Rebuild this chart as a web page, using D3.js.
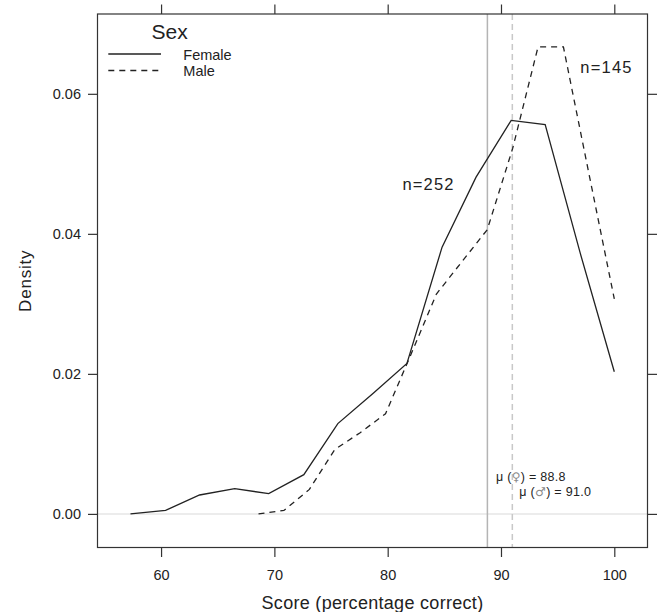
<!DOCTYPE html>
<html>
<head>
<meta charset="utf-8">
<script src="https://cdn.jsdelivr.net/npm/d3@7"></script>
<style>
  html, body { margin: 0; padding: 0; background: #fff; }
  svg { display: block; }
  text { font-family: "Liberation Sans", Arial, Helvetica, sans-serif; fill: #222; }
</style>
</head>
<body>
<svg id="chart" width="657" height="612"></svg>
<script>
// ---- data ----
const femaleScore = [57.3, 60.4, 63.4, 66.5, 69.5, 72.6, 75.6, 78.7, 81.7, 84.8, 87.8, 90.9, 93.9, 97.0, 100.0];
const femaleDensity = [0.0000, 0.0005, 0.0027, 0.0036, 0.0029, 0.0056, 0.0129, 0.0172, 0.0215, 0.0381, 0.0481, 0.0562, 0.0556, 0.0372, 0.0203];
const maleScore = [68.6, 70.84, 73.09, 75.33, 77.57, 79.81, 82.06, 84.3, 86.54, 88.79, 91.03, 93.27, 95.51, 97.76, 100.0];
const maleDensity = [0.0000, 0.0005, 0.0035, 0.0092, 0.0116, 0.0143, 0.0228, 0.0314, 0.0360, 0.0406, 0.0522, 0.0667, 0.0667, 0.0486, 0.0307];
const groups = ["Female", "Male"];
const groupN = [252, 145];
const groupMean = [88.8, 91.0];
const meanSymbols = ["\u2640", "\u2642"];
const xTicks = [60, 70, 80, 90, 100];
const yTicks = [0.00, 0.02, 0.04, 0.06];
const yTickLabels = ["0.00", "0.02", "0.04", "0.06"];

// ---- layout ----
const W = 657, H = 612;
const m = { left: 97.5, right: 9.5, top: 14, bottom: 64.5 };
const pw = W - m.left - m.right, ph = H - m.top - m.bottom;

const svg = d3.select("#chart");
const g = svg.append("g").attr("transform", `translate(${m.left},${m.top})`);

const x = d3.scaleLinear().domain([54.39, 102.93]).range([0, pw]);
const y = d3.scaleLinear().domain([-0.0048, 0.0714]).range([ph, 0]);

// zero reference line
g.append("line")
  .attr("x1", 0).attr("x2", pw)
  .attr("y1", y(0)).attr("y2", y(0))
  .attr("stroke", "#e6e6e6").attr("stroke-width", 1.5);

// mean lines
g.append("line")
  .attr("x1", x(groupMean[0])).attr("x2", x(groupMean[0]))
  .attr("y1", 0).attr("y2", ph)
  .attr("stroke", "#b4b4b4").attr("stroke-width", 1.5);
g.append("line")
  .attr("x1", x(groupMean[1])).attr("x2", x(groupMean[1]))
  .attr("y1", 0).attr("y2", ph)
  .attr("stroke", "#c8c8c8").attr("stroke-width", 1.5)
  .attr("stroke-dasharray", "6,4");

// density lines
const line = d3.line().x(d => x(d[0])).y(d => y(d[1]));
const femalePts = femaleScore.map((s, i) => [s, femaleDensity[i]]);
const malePts = maleScore.map((s, i) => [s, maleDensity[i]]);

g.append("path").datum(femalePts)
  .attr("d", line).attr("fill", "none")
  .attr("stroke", "#222").attr("stroke-width", 1.3);
g.append("path").datum(malePts)
  .attr("d", line).attr("fill", "none")
  .attr("stroke", "#222").attr("stroke-width", 1.3)
  .attr("stroke-dasharray", "6,5");

// n labels
g.append("text")
  .attr("x", x(81.3)).attr("y", y(0.0463))
  .attr("font-size", 16.5).attr("letter-spacing", 1.2)
  .text("n=" + groupN[0]);
g.append("text")
  .attr("x", x(97.0)).attr("y", y(0.0630))
  .attr("font-size", 16.5).attr("letter-spacing", 1.2)
  .text("n=" + groupN[1]);

// mean annotations
const annOff = [[8.5, -33], [7, -18]];
groupMean.forEach((mu, i) => {
  const t = g.append("text")
    .attr("x", x(mu) + annOff[i][0]).attr("y", y(0) + annOff[i][1])
    .attr("font-size", 12.5).attr("letter-spacing", 0.3)
    .attr("fill", "#333");
  t.append("tspan").text("\u03bc (");
  t.append("tspan").attr("fill", "#8a8a8a")
    .attr("font-family", '"DejaVu Sans", sans-serif').attr("font-size", 12)
    .text(meanSymbols[i]);
  t.append("tspan").text(") = " + mu.toFixed(1));
});

// panel border
g.append("rect")
  .attr("x", 0).attr("y", 0).attr("width", pw).attr("height", ph)
  .attr("fill", "none").attr("stroke", "#333").attr("stroke-width", 1.2);

// axes
const tickLen = 9.5;
const axB = d3.axisBottom(x).tickValues(xTicks).tickSize(tickLen).tickPadding(13).tickFormat(d3.format("d"));
const axT = d3.axisTop(x).tickValues(xTicks).tickSize(tickLen).tickFormat("");
const axL = d3.axisLeft(y).tickValues(yTicks).tickSize(tickLen).tickPadding(7)
  .tickFormat((d, i) => yTickLabels[i]);
const axR = d3.axisRight(y).tickValues(yTicks).tickSize(tickLen).tickFormat("");

function style(sel) {
  sel.select(".domain").remove();
  sel.selectAll(".tick line").attr("stroke", "#333").attr("stroke-width", 1.2);
  sel.selectAll(".tick text").attr("font-size", 14.5).attr("fill", "#222")
    .attr("font-family", '"Liberation Sans", Arial, sans-serif');
}
g.append("g").attr("transform", `translate(0,${ph})`).call(axB).call(style);
g.append("g").call(axT).call(style);
g.append("g").call(axL).call(style);
g.append("g").attr("transform", `translate(${pw},0)`).call(axR).call(style);

// axis titles
svg.append("text")
  .attr("x", m.left + pw / 2).attr("y", 608.5)
  .attr("text-anchor", "middle").attr("font-size", 18).attr("letter-spacing", 0.3)
  .text("Score (percentage correct)");
svg.append("text")
  .attr("transform", `translate(30.5,${m.top + ph / 2}) rotate(-90)`)
  .attr("text-anchor", "middle").attr("font-size", 17).attr("letter-spacing", 0.8)
  .text("Density");

// legend
const lg = svg.append("g");
lg.append("text").attr("x", 151.5).attr("y", 38.5).attr("font-size", 21).text("Sex");
groups.forEach((name, i) => {
  const yy = [54, 70.5][i];
  lg.append("line")
    .attr("x1", 108.3).attr("x2", 161).attr("y1", yy).attr("y2", yy)
    .attr("stroke", "#222").attr("stroke-width", 1.3)
    .attr("stroke-dasharray", i === 1 ? "6,5" : null);
  lg.append("text").attr("x", 183.3).attr("y", yy + 5.5)
    .attr("font-size", 14.5).text(name);
});
</script>
</body>
</html>
